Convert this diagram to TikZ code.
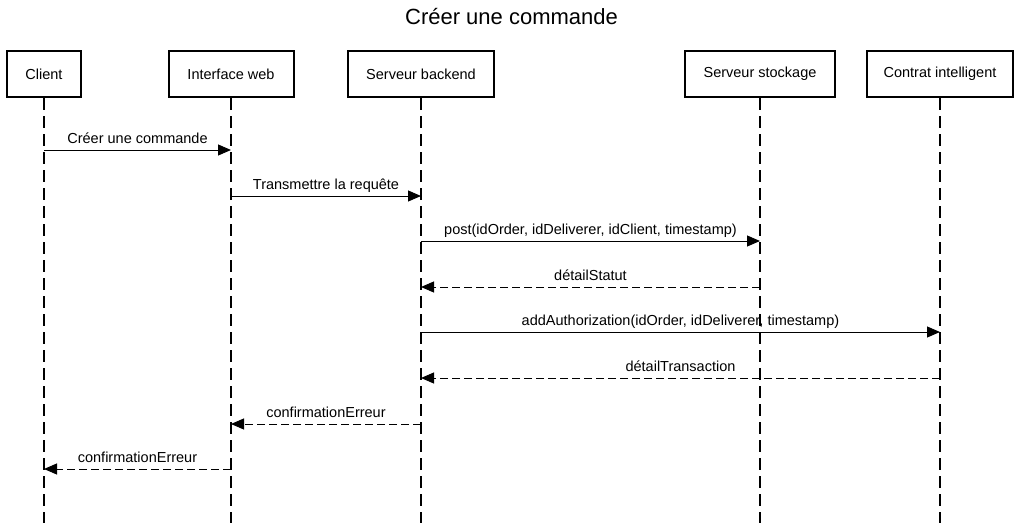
\documentclass[tikz,border=0pt]{standalone}
\usepackage{fontspec}
\setmainfont{Liberation Sans}
\usetikzlibrary{arrows.meta}
\begin{document}
\begin{tikzpicture}[x=1pt,y=-1pt,
  actor/.style={draw=black,line width=2pt,minimum height=46pt,inner sep=0pt,font=\fontsize{14.5}{17}\selectfont},
  life/.style={draw=black,line width=1.3pt,dash pattern=on 12pt off 6pt},
  msg/.style={draw=black,line width=1pt,-{Triangle[length=13pt,width=11pt]}},
  ret/.style={msg,dash pattern=on 8pt off 4pt},
  lbl/.style={font=\fontsize{14.5}{17}\selectfont,anchor=base,yshift=7pt,inner sep=0pt}
]
\useasboundingbox (0,0) rectangle (1023,527);
\node[font=\fontsize{22}{26}\selectfont,anchor=base,inner sep=0pt] (title) at (511.5,25) {Créer une commande};
\node[actor,minimum width=74pt] (c) at (44,74) {Client};
\node[actor,minimum width=125pt] (w) at (231,74) {Interface web};
\node[actor,minimum width=146pt] (b) at (421,74) {Serveur backend};
\node[actor,minimum width=150pt] (s) at (760,74) {Serveur stockage};
\node[actor,minimum width=146pt] (k) at (940,74) {Contrat intelligent};
\coordinate (ce) at (44,523);
\coordinate (we) at (231,523);
\coordinate (be) at (421,523);
\coordinate (se) at (760,523);
\coordinate (ke) at (940,523);
\draw[life] (c.south) -- (ce);
\draw[life] (w.south) -- (we);
\draw[life] (b.south) -- (be);
\draw[life] (s.south) -- (se);
\draw[life] (k.south) -- (ke);
% messages
\coordinate (c1) at (44,150); \coordinate (w1) at (231,150);
\draw[msg] (c1) -- node[lbl]{Créer une commande} (w1);
\coordinate (w2) at (231,196); \coordinate (b2) at (421,196);
\draw[msg] (w2) -- node[lbl]{Transmettre la requête} (b2);
\coordinate (b3) at (421,241); \coordinate (s3) at (760,241);
\draw[msg] (b3) -- node[lbl]{post(idOrder, idDeliverer, idClient, timestamp)} (s3);
\coordinate (s4) at (760,287); \coordinate (b4) at (421,287);
\draw[ret] (s4) -- node[lbl]{détailStatut} (b4);
\coordinate (b5) at (421,332); \coordinate (k5) at (940,332);
\draw[msg] (b5) -- node[lbl]{addAuthorization(idOrder, idDeliverer, timestamp)} (k5);
\coordinate (k6) at (940,378); \coordinate (b6) at (421,378);
\draw[ret] (k6) -- node[lbl]{détailTransaction} (b6);
\coordinate (b7) at (421,424); \coordinate (w7) at (231,424);
\draw[ret] (b7) -- node[lbl]{confirmationErreur} (w7);
\coordinate (w8) at (231,469); \coordinate (c8) at (44,469);
\draw[ret] (w8) -- node[lbl]{confirmationErreur} (c8);
\end{tikzpicture}
\end{document}
